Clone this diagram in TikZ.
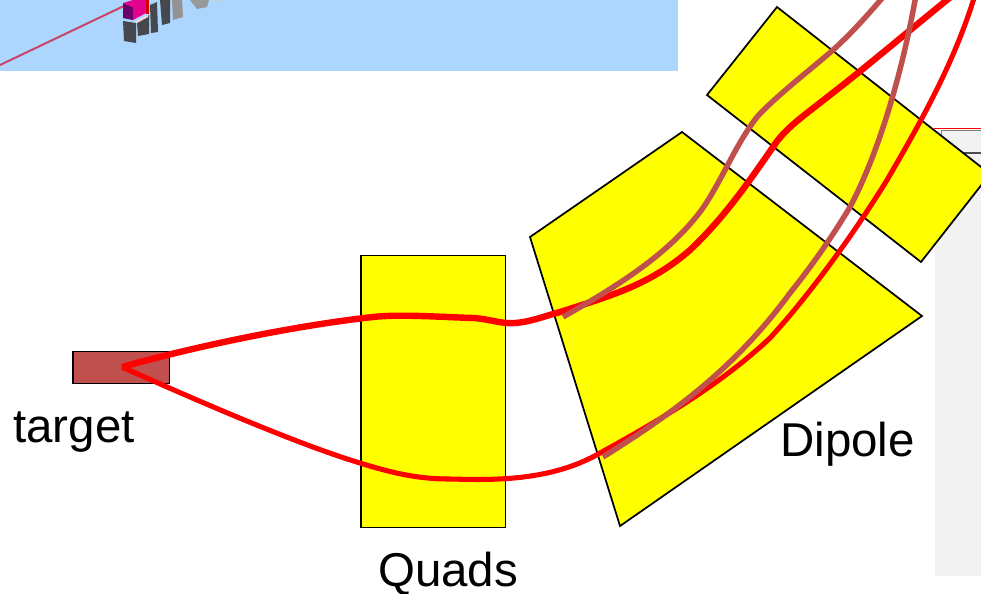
\documentclass[tikz,border=0pt]{standalone}
\usepackage{fontspec}
\setmainfont{Liberation Sans}
\usepackage{xcolor}
\usetikzlibrary{positioning}
\definecolor{skypale}{HTML}{ADD6FF}
\definecolor{brick}{HTML}{C0504D}
\definecolor{magnet}{HTML}{FFFF00}
\definecolor{panel}{HTML}{F2F2F2}
\definecolor{steel}{HTML}{45484C}
\begin{document}
\begin{tikzpicture}[x=0.75pt,y=-0.75pt,
  lbl/.style={font=\fontsize{35.6}{40}\selectfont,inner sep=0pt,anchor=base},
  mag/.style={draw=black,line width=1.3pt,fill=magnet},
  rbeam/.style={draw=red,line join=round},
  bbeam/.style={draw=brick,line width=4.1pt,line join=round},
  blk/.style={fill=steel,draw=none}]
  \useasboundingbox (0,0) rectangle (981,593);
  \clip (0,0) rectangle (981,593);
  % photo strip
  \fill[skypale] (0,0) rectangle (678,71);
  \draw[brick!85!magenta,line width=1.5pt] (0,65)--(126,5);
  \fill[blk] (123,21)--(136,23)--(136,43)--(124,41)--cycle;
  \fill[blk] (137,22)--(149,15)--(149,34)--(138,36)--cycle;
  \fill[blk] (150,5)--(157,2)--(158,32)--(151,33)--cycle;
  \fill[blk] (160,0)--(170,0)--(170,23)--(162,25)--cycle;
  \fill[gray!85] (172,0)--(182,0)--(183,17)--(173,20)--cycle;
  \fill[gray!80] (190,0)--(209,0)--(207,7)--(197,9)--cycle;
  \fill[gray!40] (215,0)--(222,0)--(219,2)--cycle;
  \fill[red!15!white] (135,22)--(148,15)--(148,17)--(137,23)--cycle;
  \fill[violet!85!black] (123,3)--(133,7)--(133,20)--(123,18)--cycle;
  \fill[magenta!95!blue] (123,3)--(133,0)--(146,0)--(146,13)--(133,20)--(133,7)--cycle;
  \fill[red!85!black] (146,0) rectangle (149,14);
  % screen panel
  \fill[panel] (935,153) rectangle (981,576);
  \draw[red,line width=0.7pt] (934,128.5)--(981,128.5);
  \fill[panel] (941,130) rectangle (981,152);
  \draw[gray,line width=0.7pt] (941,152)--(941,130)--(981,130);
  \draw[black!70,line width=0.9pt] (941,153)--(981,153);
  % magnets
  \node[mag,minimum width=108.5pt,minimum height=204pt,inner sep=0pt,anchor=north west] (quads) at (360,254.5) {};
  \draw[mag] (530,237)--(682,132)--(922,316)--(620,526)--cycle;
  \draw[mag] (777,7)--(707,95)--(921,262)--(990,174)--cycle;
  \node[draw=black,line width=1.3pt,fill=brick,minimum width=72.5pt,minimum height=24pt,inner sep=0pt,anchor=north west] (target) at (72,350.5) {};
  \coordinate (spot) at (122,367);
  % trajectories
  \draw[rbeam,line width=3.8pt] (spot) .. controls (200,402) and (300,445) .. (360,463) .. controls (395,474) and (420,479) .. (450,479)
    .. controls (490,480) and (550,482) .. (600,453) .. controls (660,420) and (720,385) .. (770,338)
    .. controls (805,300) and (850,240) .. (887,180) .. controls (925,115) and (955,60) .. (975,-5);
  \draw[rbeam,line width=4.8pt] (spot) .. controls (200,345) and (300,325) .. (373,317) .. controls (400,314) and (440,317) .. (473,318)
    .. controls (490,319) and (500,324) .. (515,323) .. controls (530,322) and (545,316) .. (560,312)
    .. controls (610,296) and (650,285) .. (690,250) .. controls (725,217) and (750,180) .. (773,147)
    .. controls (785,128) and (805,115) .. (830,95) .. controls (860,72) and (910,30) .. (953,-5);
  \draw[bbeam] (563,317) .. controls (610,290) and (665,258) .. (700,212) .. controls (720,185) and (735,145) .. (757,117)
    .. controls (775,97) and (810,70) .. (833,50) .. controls (855,30) and (870,12) .. (885,-5);
  \draw[bbeam] (603,457) .. controls (675,412) and (735,368) .. (790,293) .. controls (815,262) and (835,232) .. (850,207)
    .. controls (875,160) and (900,85) .. (916,-5);
  % labels
  \node[lbl] (targetlbl) at (74,442) {target};
  \node[lbl] (quadslbl) at (448,586) {Quads};
  \node[lbl] (dipolelbl) at (847.5,456) {Dipole};
\end{tikzpicture}
\end{document}
